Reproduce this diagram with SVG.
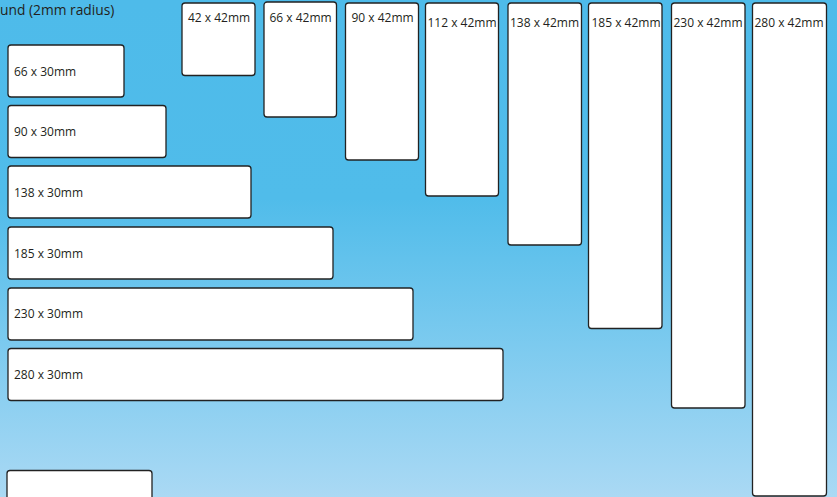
<svg xmlns="http://www.w3.org/2000/svg" width="837" height="497" viewBox="0 0 837 497">
<defs>
<linearGradient id="bg" x1="0" y1="0" x2="0" y2="497" gradientUnits="userSpaceOnUse">
<stop offset="0" stop-color="#4EBBEA"/>
<stop offset="0.4" stop-color="#50BCEA"/>
<stop offset="1" stop-color="#AAD9F4"/>
</linearGradient>
<style>
.lbl{fill:#fff;stroke:#222;stroke-width:1.3}
text{font-family:"Open Sans","Noto Sans",sans-serif;font-size:12px;fill:#231F20}
.title{font-size:13.8px}
</style>
</defs>
<rect x="0" y="0" width="837" height="497" fill="url(#bg)"/>
<text class="title" x="0" y="15">und (2mm radius)</text>
<g id="h66"><rect class="lbl" x="8" y="45" width="116" height="52" rx="3"/><text x="14" y="75.5">66 x 30mm</text></g>
<g id="h90"><rect class="lbl" x="8" y="105.5" width="158" height="52" rx="3"/><text x="14" y="135.5">90 x 30mm</text></g>
<g id="h138"><rect class="lbl" x="8" y="166" width="243" height="52" rx="3"/><text x="14" y="196.5">138 x 30mm</text></g>
<g id="h185"><rect class="lbl" x="8" y="227" width="325" height="52" rx="3"/><text x="14" y="257.5">185 x 30mm</text></g>
<g id="h230"><rect class="lbl" x="8" y="288" width="405" height="52" rx="3"/><text x="14" y="318">230 x 30mm</text></g>
<g id="h280"><rect class="lbl" x="8" y="348.5" width="495" height="52" rx="3"/><text x="14" y="378.5">280 x 30mm</text></g>
<g id="hbottom"><rect class="lbl" x="7" y="470.5" width="145" height="40" rx="3"/></g>
<g id="v42"><rect class="lbl" x="182" y="3" width="73" height="72.5" rx="3"/><text x="188" y="22">42 x 42mm</text></g>
<g id="v66"><rect class="lbl" x="264" y="2" width="72.5" height="115" rx="3"/><text x="269.5" y="22">66 x 42mm</text></g>
<g id="v90"><rect class="lbl" x="345.5" y="3" width="73" height="157" rx="3"/><text x="351.5" y="22">90 x 42mm</text></g>
<g id="v112"><rect class="lbl" x="425.5" y="3" width="73" height="193" rx="3"/><text x="427.5" y="26.5">112 x 42mm</text></g>
<g id="v138"><rect class="lbl" x="508" y="3" width="73.5" height="242" rx="3"/><text x="510" y="26.5">138 x 42mm</text></g>
<g id="v185"><rect class="lbl" x="588.5" y="3" width="73.5" height="325.5" rx="3"/><text x="591.5" y="26.5">185 x 42mm</text></g>
<g id="v230"><rect class="lbl" x="671.5" y="3" width="73.5" height="405" rx="3"/><text x="673.5" y="26.5">230 x 42mm</text></g>
<g id="v280"><rect class="lbl" x="752.5" y="3" width="74" height="493" rx="3"/><text x="754.5" y="26.5">280 x 42mm</text></g>
<g id="connectors"/>
</svg>
